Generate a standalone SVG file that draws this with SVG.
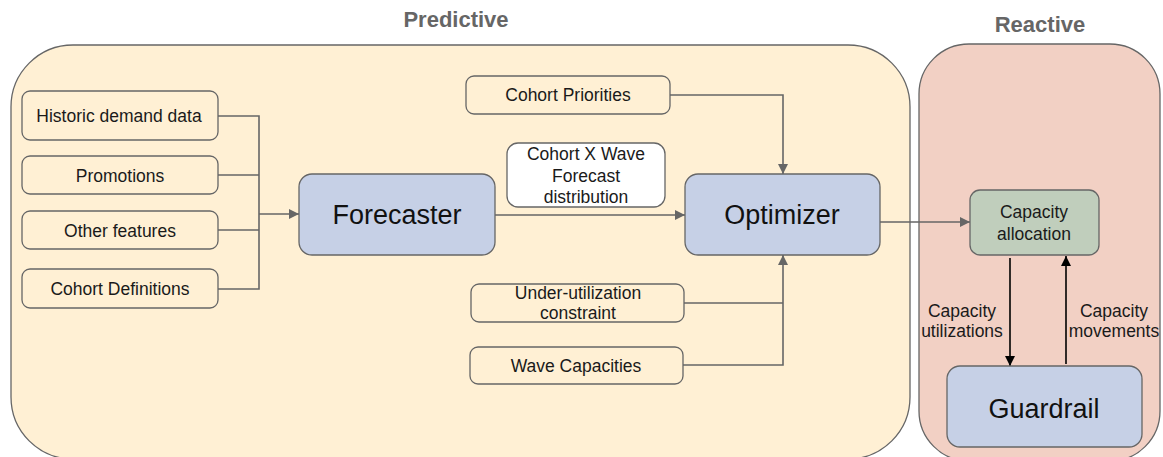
<svg xmlns="http://www.w3.org/2000/svg" width="1163" height="457" viewBox="0 0 1163 457">
<defs>
<style>
.t{font-family:"Liberation Sans",Arial,sans-serif;font-size:17.5px;fill:#1a1a1a;text-anchor:middle}
.big{font-family:"Liberation Sans",Arial,sans-serif;font-size:27px;fill:#111;text-anchor:middle}
.title{font-family:"Liberation Sans",Arial,sans-serif;font-size:22px;font-weight:bold;fill:#666;text-anchor:middle}
.in{fill:#fff0d4;stroke:#666;stroke-width:1.3}
.blue{fill:#c6d0e6;stroke:#666;stroke-width:1.3}
.c{fill:none;stroke:#666;stroke-width:1.6}
.k{fill:none;stroke:#000;stroke-width:1.6}
</style>
<marker id="ag" viewBox="0 0 10 10" refX="10" refY="5" markerWidth="10" markerHeight="10" markerUnits="userSpaceOnUse" orient="auto"><path d="M0,0 L10,5 L0,10 z" fill="#666"/></marker>
<marker id="ak" viewBox="0 0 10 10" refX="10" refY="5" markerWidth="10" markerHeight="10" markerUnits="userSpaceOnUse" orient="auto"><path d="M0,0 L10,5 L0,10 z" fill="#000"/></marker>
</defs>
<rect width="1163" height="457" fill="#fff"/>
<g id="predictive">
<rect x="11" y="45" width="899" height="414" rx="62" fill="#fff0d4" stroke="#666" stroke-width="1.3"/>
<text class="title" x="456" y="27">Predictive</text>
</g>
<g id="reactive">
<rect x="919" y="44" width="241" height="417" rx="50" fill="#f2d0c4" stroke="#666" stroke-width="1.3"/>
<text class="title" x="1040" y="32">Reactive</text>
</g>
<g id="connectors">
<path class="c" d="M218,116 H259 V289 H218"/>
<path class="c" d="M218,175 H259"/>
<path class="c" d="M218,230 H259"/>
<path class="c" d="M259,214 H299" marker-end="url(#ag)"/>
<path class="c" d="M495,215 H685" marker-end="url(#ag)"/>
<path class="c" d="M670,95 H783 V174" marker-end="url(#ag)"/>
<path class="c" d="M684,303 H783"/>
<path class="c" d="M683,365 H783 V255" marker-end="url(#ag)"/>
<path class="c" d="M880,222 H970" marker-end="url(#ag)"/>
<path class="k" d="M1010,258 V366" marker-end="url(#ak)"/>
<path class="k" d="M1066,364 V256" marker-end="url(#ak)"/>
<text class="t" x="962" y="317">Capacity</text>
<text class="t" x="962" y="337">utilizations</text>
<text class="t" x="1114" y="317">Capacity</text>
<text class="t" x="1114" y="337">movements</text>
</g>
<g id="historic"><rect class="in" x="22" y="91" width="196" height="49" rx="8"/><text class="t" x="119" y="122">Historic demand data</text></g>
<g id="promotions"><rect class="in" x="22" y="156" width="196" height="38" rx="8"/><text class="t" x="120" y="182">Promotions</text></g>
<g id="other"><rect class="in" x="22" y="211" width="196" height="38" rx="8"/><text class="t" x="120" y="237">Other features</text></g>
<g id="cohortdef"><rect class="in" x="22" y="269" width="196" height="39" rx="8"/><text class="t" x="120" y="295">Cohort Definitions</text></g>
<g id="forecaster"><rect class="blue" x="299" y="174" width="196" height="81" rx="13"/><text class="big" x="397" y="224">Forecaster</text></g>
<g id="priorities"><rect class="in" x="466" y="76" width="204" height="38" rx="8"/><text class="t" x="568" y="101">Cohort Priorities</text></g>
<g id="cohortwave"><rect x="507" y="143" width="158" height="64" rx="11" fill="#fff" stroke="#666" stroke-width="1.3"/><text class="t" x="586" y="160">Cohort X Wave</text><text class="t" x="586" y="182">Forecast</text><text class="t" x="586" y="203">distribution</text></g>
<g id="optimizer"><rect class="blue" x="685" y="174" width="195" height="81" rx="13"/><text class="big" x="782" y="224">Optimizer</text></g>
<g id="underutil"><rect class="in" x="471" y="284" width="213" height="38" rx="8"/><text class="t" x="578" y="299">Under-utilization</text><text class="t" x="578" y="319">constraint</text></g>
<g id="wavecap"><rect class="in" x="470" y="347" width="213" height="37" rx="8"/><text class="t" x="576" y="372">Wave Capacities</text></g>
<g id="allocation"><rect x="970" y="190" width="129" height="65" rx="10" fill="#c0cebc" stroke="#666" stroke-width="1.3"/><text class="t" x="1034" y="218">Capacity</text><text class="t" x="1034" y="240">allocation</text></g>
<g id="guardrail"><rect class="blue" x="947" y="366" width="195" height="81" rx="13"/><text class="big" x="1044" y="418">Guardrail</text></g>
</svg>
